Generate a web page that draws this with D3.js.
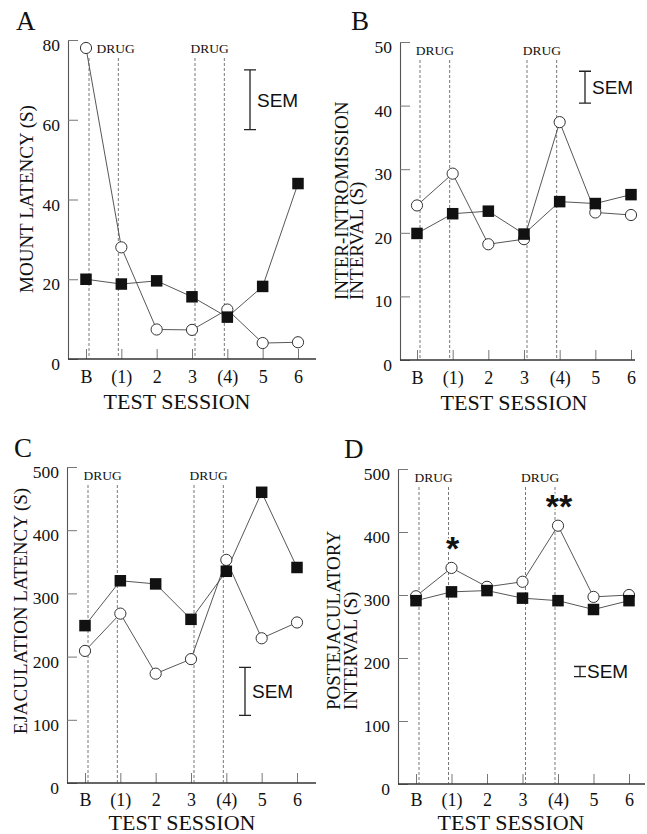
<!DOCTYPE html>
<html>
<head>
<meta charset="utf-8">
<script src="https://cdn.jsdelivr.net/npm/d3@7"></script>
<style>
  html, body { margin: 0; padding: 0; background: #fff; }
  svg { display: block; }
  .serif { font-family: "Liberation Serif", "Times New Roman", serif; fill: #111; }
  .sans  { font-family: "Liberation Sans", Arial, sans-serif; fill: #111; }
</style>
</head>
<body>
<svg id="chart" width="647" height="834"></svg>
<script>
// sessions on the x axis (drug days in parentheses)
const sessions = ["B", "(1)", "2", "3", "(4)", "5", "6"]

// A — mount latency (s)
const mountOpen   = [78, 28, 7.4, 7.3, 12.4, 4.0, 4.2]
const mountFilled = [20, 18.8, 19.6, 15.6, 10.5, 18.2, 44]
// B — inter-intromission interval (s)
const iiiOpen   = [24.3, 29.3, 18.2, 19.0, 37.4, 23.2, 22.8]
const iiiFilled = [19.9, 23.0, 23.4, 19.8, 24.9, 24.6, 26.0]
// C — ejaculation latency (s)
const ejacOpen   = [209, 268, 173, 196, 353, 229, 254]
const ejacFilled = [249, 320, 315, 259, 335, 460, 341]
// D — postejaculatory interval (s)
const peiOpen   = [298, 343, 313, 321, 410, 297, 300]
const peiFilled = [291, 305, 307, 295, 291, 277, 291]

// tick values
const ticksA = [0, 20, 40, 60, 80]
const ticksB = [0, 10, 20, 30, 40, 50]
const ticksCD = [0, 100, 200, 300, 400, 500]

// drug periods : first and last session of each bracket
const drugBrackets = [["B", "(1)"], ["3", "(4)"]]

// SEM bars [low, high]
const semA = [57.5, 72.5]
const semB = [40.4, 45.4]
const semC = [107, 183]
const semD = [170.5, 186.5]

// significance marks in D (on the open series)
const starsD = [{ session: "(1)", label: "*" }, { session: "(4)", label: "**" }]

const svg = d3.select("#chart")

// ── one panel ──────────────────────────────────────────
function drawPanel(p) {
  const g = svg.append("g")

  const x = d3.scalePoint().domain(sessions).range([p.first, p.last])
  const y = d3.scaleLinear().domain([0, p.max]).range([p.bottom, p.top])

  // panel letter
  g.append("text").attr("class", "serif")
    .attr("x", p.letterX).attr("y", p.letterY)
    .style("font-size", "27px").text(p.letter)

  // y axis, ticks pointing inwards
  const ya = g.append("g").attr("transform", `translate(${p.left},0)`)
    .call(d3.axisLeft(y).tickValues(p.ticks).tickSize(-10).tickSizeOuter(0).tickPadding(8))
  ya.select(".domain").attr("stroke", "#555").attr("stroke-width", 1.1)
  ya.selectAll(".tick line").attr("stroke", "#777")
  ya.selectAll("text").attr("class", "serif").attr("dy", "0.6em")
    .style("font-size", "17.5px").attr("fill", "#111")

  // x axis
  const xa = g.append("g").attr("transform", `translate(0,${p.bottom})`)
    .call(d3.axisBottom(x).tickSize(-10).tickSizeOuter(0).tickPadding(p.xPad))
  xa.select(".domain").remove()
  xa.selectAll(".tick line").attr("stroke", "#777")
  xa.selectAll("text").attr("class", "serif").style("font-size", "18px").attr("fill", "#111")
  g.append("line")
    .attr("x1", p.left).attr("x2", p.right)
    .attr("y1", p.bottom).attr("y2", p.bottom)
    .attr("stroke", "#333").attr("stroke-width", 1.5)

  g.append("text").attr("class", "serif")
    .attr("x", p.xLabelX).attr("y", p.bottom + p.xLabelDy)
    .attr("text-anchor", "middle").style("font-size", "22px")
    .text("TEST SESSION")

  // y label (one or two lines, rotated)
  p.yLabel.forEach((line, i) => {
    g.append("text").attr("class", "serif")
      .attr("transform", `translate(${p.labelX[i]},${p.labelY}) rotate(-90)`)
      .attr("text-anchor", p.labelAnchor)
      .style("font-size", "19px")
      .text(line)
  })

  // drug periods
  drugBrackets.forEach(([a, b], i) => {
    const xa1 = x(a) + 3, xb1 = x(b) - 3
    ;[xa1, xb1].forEach(xx => {
      g.append("line")
        .attr("x1", xx).attr("x2", xx)
        .attr("y1", p.top + 18).attr("y2", p.bottom)
        .attr("stroke", "#555").attr("stroke-width", 0.8)
        .attr("stroke-dasharray", "3,2")
    })
    g.append("text").attr("class", "serif")
      .attr("x", (xa1 + xb1) / 2 + (p.drugDx[i] || 0)).attr("y", p.top + 12.5)
      .attr("text-anchor", "middle").style("font-size", "13.5px")
      .text("DRUG")
  })

  // SEM bar
  const sy0 = y(p.sem[0]), sy1 = y(p.sem[1])
  g.append("path")
    .attr("d", `M${p.semX - 6},${sy1}H${p.semX + 6}M${p.semX},${sy1}V${sy0}M${p.semX - 6},${sy0}H${p.semX + 6}`)
    .attr("stroke", "#222").attr("stroke-width", 1.3).attr("fill", "none")
  g.append("text").attr("class", "sans")
    .attr("x", p.semX + 7).attr("y", (sy0 + sy1) / 2).attr("dy", "0.36em")
    .style("font-size", "19px").text("SEM")

  // series
  const line = d3.line().x((d, i) => x(sessions[i])).y(d => y(d))
  g.append("path").datum(p.open).attr("d", line)
    .attr("fill", "none").attr("stroke", "#444").attr("stroke-width", 0.9)
  g.append("path").datum(p.filled).attr("d", line)
    .attr("fill", "none").attr("stroke", "#444").attr("stroke-width", 0.9)

  g.selectAll("circle.open").data(p.open).join("circle")
    .attr("class", "open")
    .attr("cx", (d, i) => x(sessions[i])).attr("cy", d => y(d))
    .attr("r", 5.6).attr("fill", "#fff").attr("stroke", "#333").attr("stroke-width", 1)

  const s = 11.5
  g.selectAll("rect.filled").data(p.filled).join("rect")
    .attr("class", "filled")
    .attr("x", (d, i) => x(sessions[i]) - s / 2).attr("y", d => y(d) - s / 2)
    .attr("width", s).attr("height", s).attr("fill", "#111")

  // significance stars
  if (p.stars) {
    p.stars.forEach(st => {
      const i = sessions.indexOf(st.session)
      g.append("text").attr("class", "sans")
        .attr("x", x(st.session) + 1).attr("y", y(p.open[i]) - 27).attr("dy", "0.56em")
        .attr("text-anchor", "middle")
        .style("font-size", "34px").style("font-weight", "bold")
        .attr("stroke", "#fff").attr("stroke-width", 3).style("paint-order", "stroke")
        .text(st.label)
    })
  }
}

drawPanel({
  letter: "A", letterX: 16, letterY: 30,
  left: 68, right: 316, top: 40, bottom: 359, first: 86, last: 298,
  max: 80, ticks: ticksA, xPad: 11, xLabelX: 177, xLabelDy: 50,
  yLabel: ["MOUNT LATENCY (S)"], labelX: [33], labelY: 199, labelAnchor: "middle",
  open: mountOpen, filled: mountFilled,
  sem: semA, semX: 250, drugDx: [12, 0]
})

drawPanel({
  letter: "B", letterX: 351, letterY: 30,
  left: 400, right: 635, top: 42, bottom: 360, first: 417, last: 631,
  max: 50, ticks: ticksB, xPad: 11, xLabelX: 514, xLabelDy: 50,
  yLabel: ["INTER-INTROMISSION", "INTERVAL (S)"], labelX: [348, 363], labelY: 300, labelAnchor: "start",
  open: iiiOpen, filled: iiiFilled,
  sem: semB, semX: 585, drugDx: [0, 0]
})

drawPanel({
  letter: "C", letterX: 14, letterY: 457,
  left: 67, right: 316, top: 467, bottom: 783, first: 85, last: 297,
  max: 500, ticks: ticksCD, xPad: 10, xLabelX: 182, xLabelDy: 46.5,
  yLabel: ["EJACULATION LATENCY (S)"], labelX: [27], labelY: 611, labelAnchor: "middle",
  open: ejacOpen, filled: ejacFilled,
  sem: semC, semX: 245, drugDx: [0, 0]
})

drawPanel({
  letter: "D", letterX: 344, letterY: 458,
  left: 398, right: 645, top: 469, bottom: 784, first: 416, last: 629,
  max: 500, ticks: ticksCD, xPad: 9.5, xLabelX: 511, xLabelDy: 45.5,
  yLabel: ["POSTEJACULATORY", "INTERVAL (S)"], labelX: [340, 357], labelY: 710, labelAnchor: "start",
  open: peiOpen, filled: peiFilled,
  sem: semD, semX: 580, drugDx: [0, 0],
  stars: starsD
})
</script>
</body>
</html>
